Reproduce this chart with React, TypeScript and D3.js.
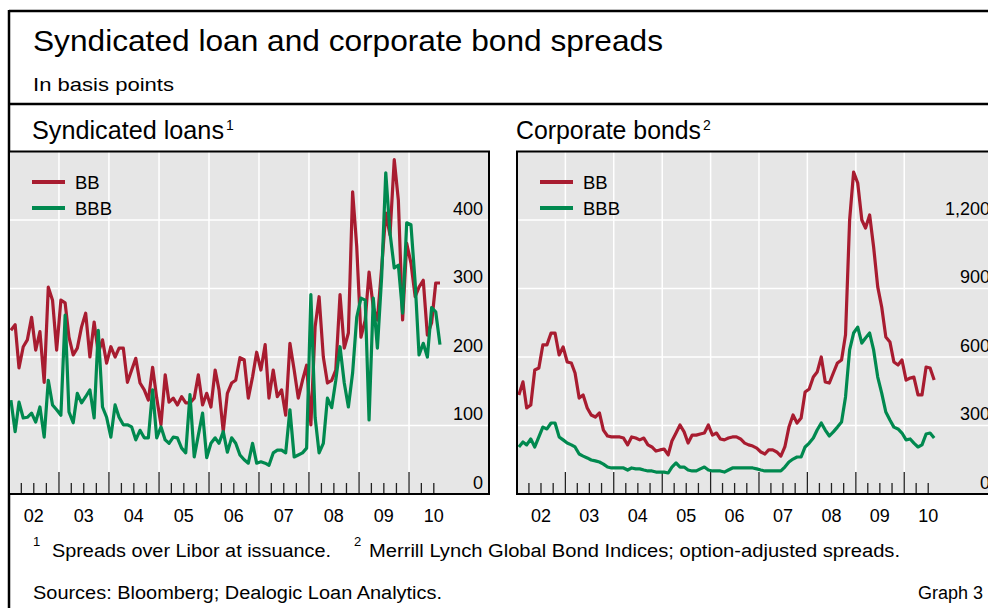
import React from "react";
import * as d3 from "d3";

const FONT = '"Liberation Sans", Arial, Helvetica, sans-serif';
const RED = "#a81c30";
const GREEN = "#00894f";
const BG = "#e6e6e6";

// Monthly observations, Jan 2002 – Aug 2010 (basis points)
const loanBB = [
  239, 247, 184, 215, 225, 258, 210, 237, 163, 302, 283, 210, 283, 279, 229, 203, 213, 244, 264, 200,
  251, 206, 225, 191, 215, 200, 213, 213, 163, 181, 198, 162, 152, 137, 185, 140, 101, 174, 134, 140,
  130, 142, 133, 133, 140, 174, 130, 147, 127, 181, 152, 91, 147, 162, 166, 199,
  196, 140, 171, 207, 181, 218, 140, 181, 142, 152, 115, 220, 181, 140, 166, 188, 101, 244, 288, 200,
  162, 166, 181, 291, 213, 235, 441, 361, 229, 254, 324, 272, 254, 330, 410, 378, 488, 429, 254, 366,
  337, 288, 302, 312, 232, 250, 308, 308,
];
const loanBBB = [
  137, 91, 134, 111, 112, 118, 105, 127, 83, 166, 130, 123, 115, 261, 120, 104, 147, 133, 142, 152,
  111, 239, 127, 112, 83, 130, 112, 101, 101, 98, 79, 93, 82, 82, 152, 82, 98, 79, 74, 83,
  82, 67, 60, 145, 54, 86, 118, 53, 74, 82, 74, 91, 61, 82, 74, 57,
  50, 45, 74, 45, 47, 45, 42, 60, 64, 64, 60, 123, 54, 57, 60, 67, 291, 112, 60, 74,
  140, 126, 166, 215, 162, 127, 177, 258, 286, 283, 108, 286, 213, 317, 469, 381, 330, 334, 264, 396,
  393, 308, 203, 220, 200, 272, 266, 218,
];
const bondBB = [
  434, 491, 377, 390, 543, 552, 653, 653, 705, 705, 609, 644, 578, 574, 530, 420, 434, 377, 346, 337,
  355, 280, 254, 250, 250, 250, 245, 215, 250, 245, 237, 245, 215, 206, 188, 193, 197, 171, 232, 267,
  302, 272, 223, 258, 258, 263, 267, 302, 258, 267, 241, 237, 245, 250, 250, 241, 223, 215,
  210, 201, 184, 175, 193, 193, 184, 166, 206, 293, 346, 311, 333, 447, 460, 512, 534, 600, 491, 486,
  530, 574, 587, 697, 1200, 1410, 1362, 1200, 1165, 1222, 1082, 907, 819, 688, 666, 578, 565, 587, 499, 508,
  512, 434, 434, 556, 552, 499,
];
const bondBBB = [
  206, 228, 215, 241, 206, 250, 293, 285, 311, 311, 250, 237, 223, 215, 206, 175, 166, 158, 149, 145,
  140, 131, 118, 114, 114, 114, 114, 105, 114, 110, 110, 105, 101, 101, 96, 96, 96, 92, 118, 136,
  118, 118, 105, 101, 101, 110, 118, 105, 101, 101, 101, 96, 105, 114, 114, 114, 114, 114,
  114, 110, 105, 101, 101, 101, 101, 101, 118, 140, 153, 162, 162, 206, 223, 245, 280, 311, 280, 254,
  272, 293, 315, 425, 631, 705, 731, 661, 683, 705, 631, 512, 442, 359, 324, 293, 285, 267, 237, 241,
  223, 206, 215, 263, 267, 245,
];

const years = ["02", "03", "04", "05", "06", "07", "08", "09", "10"];
const loanTicks = [0, 100, 200, 300, 400];
const bondTicks = [0, 300, 600, 900, 1200];
const seriesNames = ["BB", "BBB"];

const monthDates = (n: number) => d3.range(n).map((i) => new Date(2002, i, 15));

type PanelProps = {
  left: number;
  right: number;
  xEnd: number;
  yMax: number;
  ticks: number[];
  bb: number[];
  bbb: number[];
  title: string;
  sup: string;
  titleX: number;
  titleW: number;
};

function Panel({ left, right, xEnd, yMax, ticks, bb, bbb, title, sup, titleX, titleW }: PanelProps) {
  const top = 151.5;
  const bottom = 494;
  const x = d3
    .scaleTime()
    .domain([new Date(2002, 0, 1), new Date(2011, 0, 1)])
    .range([left, xEnd]);
  const y = d3.scaleLinear().domain([0, yMax]).range([bottom, top]);
  const line = d3
    .line<[Date, number]>()
    .x((d) => x(d[0]))
    .y((d) => y(d[1]));
  const dBB = line(monthDates(bb.length).map((d, i) => [d, bb[i]]) as [Date, number][]);
  const dBBB = line(monthDates(bbb.length).map((d, i) => [d, bbb[i]]) as [Date, number][]);
  const majors = d3.timeYear.range(new Date(2003, 0, 1), new Date(2010, 1, 1));
  const minors = d3
    .timeMonth.every(3)!
    .range(new Date(2002, 0, 1), new Date(2010, 7, 1))
    .filter((d) => d.getMonth() !== 0);
  const fmt = d3.format(",");
  return (
    <g>
      <text x={titleX} y={139} fontSize={25} fontFamily={FONT} fill="#000" textLength={titleW} lengthAdjust="spacingAndGlyphs">
        {title}
      </text>
      <text x={titleX + titleW + 2} y={130} fontSize={14} fontFamily={FONT} fill="#000">{sup}</text>
      <rect x={left} y={top} width={right - left} height={bottom - top} fill={BG} />
      {ticks.filter((t) => t > 0).map((t) => (
        <line key={"h" + t} x1={left} x2={right} y1={y(t)} y2={y(t)} stroke="#fff" strokeWidth={1.5} />
      ))}
      {majors.map((d) => (
        <line key={"v" + d.getFullYear()} x1={x(d)} x2={x(d)} y1={top} y2={bottom} stroke="#fff" strokeWidth={1.5} />
      ))}
      {majors.map((d) => (
        <line key={"mt" + d.getFullYear()} x1={x(d)} x2={x(d)} y1={472} y2={bottom} stroke="#222" strokeWidth={1.3} />
      ))}
      {minors.map((d) => (
        <line key={"nt" + d.getTime()} x1={x(d)} x2={x(d)} y1={483} y2={bottom} stroke="#222" strokeWidth={1.3} />
      ))}
      <path d={dBB || ""} fill="none" stroke={RED} strokeWidth={3.2} strokeLinejoin="round" />
      <path d={dBBB || ""} fill="none" stroke={GREEN} strokeWidth={3.2} strokeLinejoin="round" />
      {ticks.map((t) => (
        <text key={"yl" + t} x={right - 6} y={y(t) - 5.5} textAnchor="end" fontSize={18} fontFamily={FONT} fill="#000">
          {fmt(t)}
        </text>
      ))}
      {seriesNames.map((s, i) => (
        <g key={s}>
          <line x1={left + 23} x2={left + 56} y1={182 + i * 26} y2={182 + i * 26} stroke={i === 0 ? RED : GREEN} strokeWidth={4} />
          <text x={left + 66} y={188.5 + i * 26} fontSize={18.5} fontFamily={FONT} fill="#000">{s}</text>
        </g>
      ))}
      <rect x={left} y={top} width={right - left} height={bottom - top} fill="none" stroke="#000" strokeWidth={2} />
      {years.map((yr, i) => (
        <text key={yr} x={x(new Date(2002 + i, 6, 1))} y={522} textAnchor="middle" fontSize={18} fontFamily={FONT} fill="#000">
          {yr}
        </text>
      ))}
    </g>
  );
}

export default function App() {
  return (
    <svg width={988} height={608} style={{ position: "absolute", left: 0, top: 0, background: "#fff" }}>
      <rect x={0} y={0} width={988} height={608} fill="#fff" />
      <line x1={9} x2={988} y1={11} y2={11} stroke="#000" strokeWidth={2.5} />
      <line x1={9} x2={9} y1={10} y2={608} stroke="#000" strokeWidth={2.5} />
      <line x1={9} x2={988} y1={104} y2={104} stroke="#000" strokeWidth={2.5} />
      <text x={33} y={51} fontSize={30} fontFamily={FONT} fill="#000" textLength={630} lengthAdjust="spacingAndGlyphs">
        Syndicated loan and corporate bond spreads
      </text>
      <text x={33} y={91} fontSize={19} fontFamily={FONT} fill="#000" textLength={141} lengthAdjust="spacingAndGlyphs">
        In basis points
      </text>
      <Panel left={9} right={489} xEnd={459} yMax={500} ticks={loanTicks} bb={loanBB} bbb={loanBBB}
        title="Syndicated loans" sup="1" titleX={32} titleW={192} />
      <Panel left={517} right={996} xEnd={952.6} yMax={1500} ticks={bondTicks} bb={bondBB} bbb={bondBBB}
        title="Corporate bonds" sup="2" titleX={516} titleW={185} />
      <text x={33} y={546} fontSize={13} fontFamily={FONT} fill="#000">1</text>
      <text x={52} y={557} fontSize={18} fontFamily={FONT} fill="#000" textLength={279} lengthAdjust="spacingAndGlyphs">
        Spreads over Libor at issuance.
      </text>
      <text x={354} y={546} fontSize={13} fontFamily={FONT} fill="#000">2</text>
      <text x={369} y={557} fontSize={18} fontFamily={FONT} fill="#000" textLength={531} lengthAdjust="spacingAndGlyphs">
        Merrill Lynch Global Bond Indices; option-adjusted spreads.
      </text>
      <text x={33} y={599} fontSize={18} fontFamily={FONT} fill="#000" textLength={409} lengthAdjust="spacingAndGlyphs">
        Sources: Bloomberg; Dealogic Loan Analytics.
      </text>
      <text x={983} y={599} textAnchor="end" fontSize={18} fontFamily={FONT} fill="#000">
        Graph 3
      </text>
    </svg>
  );
}
